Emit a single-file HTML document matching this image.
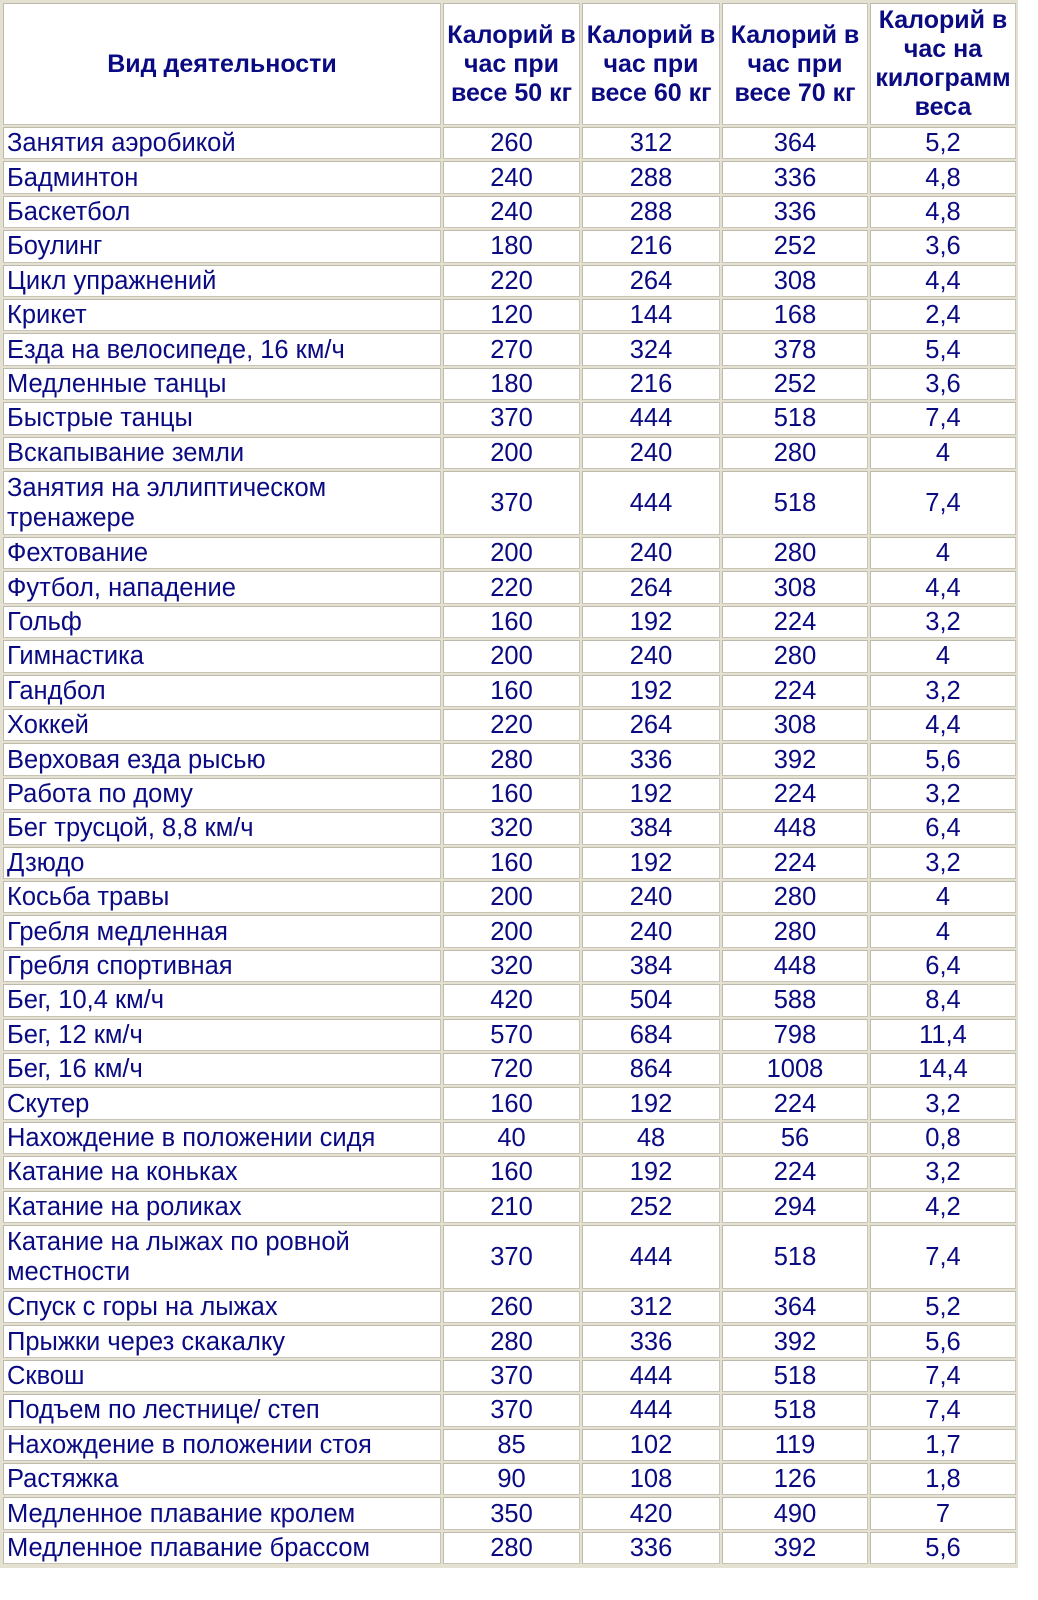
<!DOCTYPE html>
<html><head><meta charset="utf-8">
<style>
html,body{margin:0;padding:0;}
body{width:1038px;height:1600px;background:#fff;position:relative;overflow:hidden;font-family:"Liberation Sans",Arial,sans-serif;color:#0a0a82;}
#frame{position:absolute;left:0;top:0;width:1018px;height:1568px;background:#e4e0d2;}
.c{position:absolute;box-sizing:border-box;background:#fff;border:1px solid #c8c4b6;border-top-color:#bdb9ab;border-left-color:#bdb9ab;display:flex;align-items:center;font-size:25.5px;line-height:30px;white-space:nowrap;}
.l{padding-left:3px;}
.m{justify-content:center;text-align:center;}
.h{font-weight:bold;font-size:25px;line-height:29px;}
</style></head><body>
<div id="frame"></div>
<div id="t"></div>
<script>
var cols=[[3,441],[443,580],[582,720],[722,868],[870,1016]];
var rows=[
["Занятия аэробикой","260","312","364","5,2"],
["Бадминтон","240","288","336","4,8"],
["Баскетбол","240","288","336","4,8"],
["Боулинг","180","216","252","3,6"],
["Цикл упражнений","220","264","308","4,4"],
["Крикет","120","144","168","2,4"],
["Езда на велосипеде, 16 км/ч","270","324","378","5,4"],
["Медленные танцы","180","216","252","3,6"],
["Быстрые танцы","370","444","518","7,4"],
["Вскапывание земли","200","240","280","4"],
["Занятия на эллиптическом<br>тренажере","370","444","518","7,4"],
["Фехтование","200","240","280","4"],
["Футбол, нападение","220","264","308","4,4"],
["Гольф","160","192","224","3,2"],
["Гимнастика","200","240","280","4"],
["Гандбол","160","192","224","3,2"],
["Хоккей","220","264","308","4,4"],
["Верховая езда рысью","280","336","392","5,6"],
["Работа по дому","160","192","224","3,2"],
["Бег трусцой, 8,8 км/ч","320","384","448","6,4"],
["Дзюдо","160","192","224","3,2"],
["Косьба травы","200","240","280","4"],
["Гребля медленная","200","240","280","4"],
["Гребля спортивная","320","384","448","6,4"],
["Бег, 10,4 км/ч","420","504","588","8,4"],
["Бег, 12 км/ч","570","684","798","11,4"],
["Бег, 16 км/ч","720","864","1008","14,4"],
["Скутер","160","192","224","3,2"],
["Нахождение в положении сидя","40","48","56","0,8"],
["Катание на коньках","160","192","224","3,2"],
["Катание на роликах","210","252","294","4,2"],
["Катание на лыжах по ровной<br>местности","370","444","518","7,4"],
["Спуск с горы на лыжах","260","312","364","5,2"],
["Прыжки через скакалку","280","336","392","5,6"],
["Сквош","370","444","518","7,4"],
["Подъем по лестнице/ степ","370","444","518","7,4"],
["Нахождение в положении стоя","85","102","119","1,7"],
["Растяжка","90","108","126","1,8"],
["Медленное плавание кролем","350","420","490","7"],
["Медленное плавание брассом","280","336","392","5,6"]];
var hdr=["Вид деятельности","Калорий в<br>час при<br>весе 50 кг","Калорий в<br>час при<br>весе 60 кг","Калорий в<br>час при<br>весе 70 кг","Калорий в<br>час на<br>килограмм<br>веса"];
var h="";
function cell(x0,x1,y,ht,txt,cls){h+='<div class="c '+cls+'" style="left:'+x0+'px;top:'+y+'px;width:'+(x1-x0)+'px;height:'+ht+'px">'+(cls.indexOf('m')>=0?'<span>'+txt+'</span>':txt)+'</div>';}
for(var j=0;j<5;j++)cell(cols[j][0],cols[j][1],3,122,hdr[j],'h m');
var y=127;
for(var i=0;i<rows.length;i++){
 var dbl=rows[i][0].indexOf('<br>')>=0;
 var ht=dbl?64:32.4;
 for(var j=0;j<5;j++)cell(cols[j][0],cols[j][1],y,ht,rows[i][j],j==0?'l':'m');
 y+=ht+2;
}
document.getElementById('t').innerHTML=h;
</script>
</body></html>
